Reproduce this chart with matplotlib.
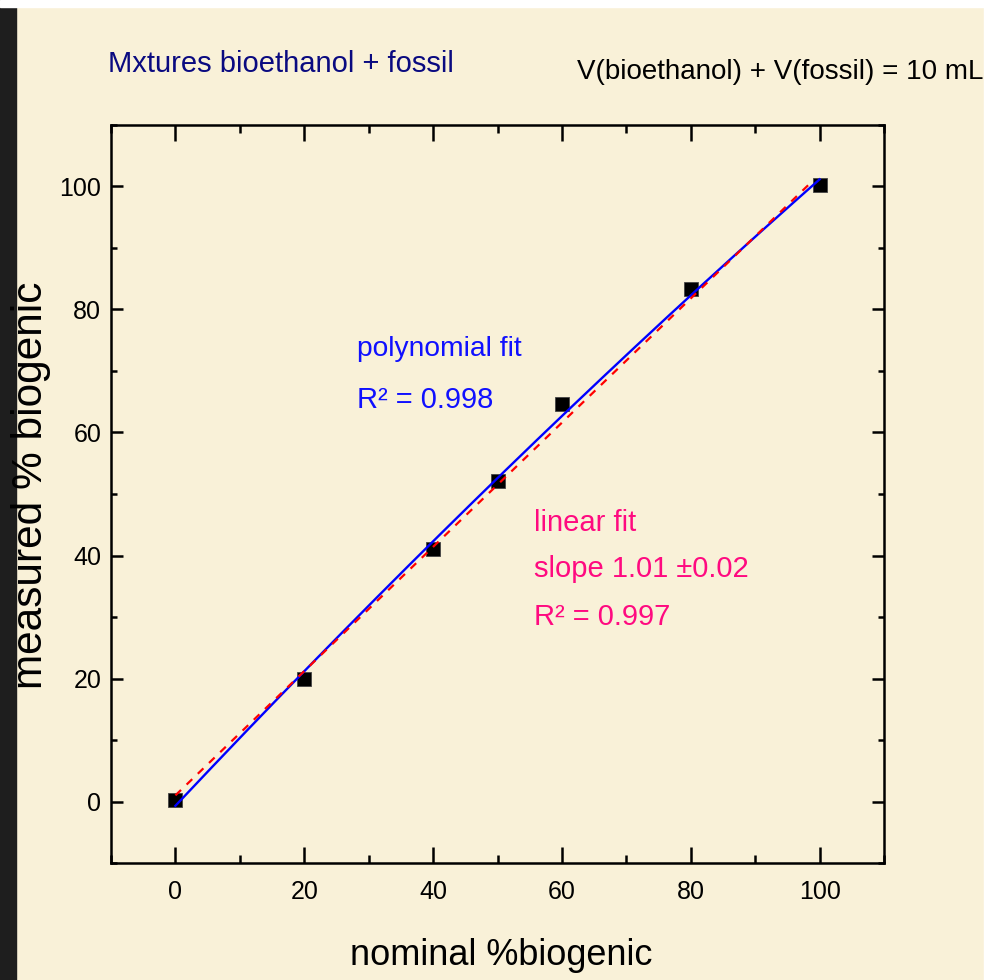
import matplotlib
matplotlib.use("Agg")
import matplotlib.pyplot as plt
import numpy as np
from matplotlib.patches import Rectangle
from matplotlib.ticker import MultipleLocator

BG = "#F9F1D8"
NAVY = "#0A0A80"
BLUE = "#1010FF"
PINK = "#FF0A80"
FONT = ["Liberation Sans"]

# blend measurements
nominal = [0, 20, 40, 50, 60, 80, 100]
measured = [0.3, 20.0, 41.0, 52.1, 64.6, 83.3, 100.2]

# linear fit result as reported
lin_slope = 1.01
lin_intercept = 1.0
lin_range = [0, 99]

W, H = 988, 980


def fx(px):
    return px / W


def fy(py):
    return 1 - py / H


def main():
    fig = plt.figure(figsize=(W / 100, H / 100), dpi=100, facecolor=BG)

    # frame strips around the slide
    fig.patches.append(Rectangle((0, 0), fx(16), 1, transform=fig.transFigure,
                                 color="#1e1e1e", zorder=0))
    fig.patches.append(Rectangle((0, fy(7)), 1, 1 - fy(7),
                                 transform=fig.transFigure, color="white", zorder=1))
    fig.patches.append(Rectangle((fx(984), 0), 1 - fx(984), 1,
                                 transform=fig.transFigure, color="white", zorder=1))

    ax = fig.add_axes([fx(111), fy(863), fx(884) - fx(111), fy(125) - fy(863)])
    ax.set_facecolor(BG)

    x = np.asarray(nominal, dtype=float)
    y = np.asarray(measured, dtype=float)

    ax.plot(x, y, "s", color="black", markersize=10.5, markeredgecolor="#444444",
            markeredgewidth=0.6, zorder=2)

    coeffs = np.polyfit(x, y, 2)
    xs = np.linspace(0, 100, 200)
    ax.plot(xs, np.polyval(coeffs, xs), color="#0000FF", linewidth=1.7, zorder=3)

    xl = np.array(lin_range, dtype=float)
    ax.plot(xl, lin_slope * xl + lin_intercept, color="#FF0000", linewidth=1.6,
            dashes=(3.5, 3.5), zorder=4)

    ax.set_xlim(-10, 110)
    ax.set_ylim(-10, 110)
    ax.xaxis.set_major_locator(MultipleLocator(20))
    ax.xaxis.set_minor_locator(MultipleLocator(10))
    ax.yaxis.set_major_locator(MultipleLocator(20))
    ax.yaxis.set_minor_locator(MultipleLocator(10))

    ax.tick_params(which="both", direction="in", top=True, right=True,
                   width=1.8, color="black")
    ax.tick_params(axis="x", which="major", length=11.5, pad=12)
    ax.tick_params(axis="x", which="minor", length=5.5)
    ax.tick_params(axis="y", which="major", length=8.6, pad=7)
    ax.tick_params(axis="y", which="minor", length=4.3)
    for lab in ax.get_xticklabels() + ax.get_yticklabels():
        lab.set_family(FONT)
        lab.set_fontsize(18)
    for sp in ax.spines.values():
        sp.set_linewidth(1.8)

    # axis titles
    fig.text(fx(501), fy(955), "nominal %biogenic", family=FONT, fontsize=26,
             ha="center", va="center")
    fig.text(fx(31), fy(485), "measured % biogenic", family=FONT, fontsize=30.5,
             rotation=90, ha="center", va="center")

    # header lines
    fig.text(fx(108), fy(72), "Mxtures bioethanol + fossil", family=FONT,
             fontsize=21, color=NAVY, ha="left", va="baseline")
    fig.text(fx(577), fy(79), "V(bioethanol) + V(fossil) = 10 mL", family=FONT,
             fontsize=20, color="black", ha="left", va="baseline")

    # fit annotations
    fig.text(fx(357), fy(356), "polynomial fit", family=FONT, fontsize=20.3,
             color=BLUE, ha="left", va="baseline")
    fig.text(fx(357), fy(408), "R\u00b2 = 0.998", family=FONT, fontsize=21,
             color=BLUE, ha="left", va="baseline")
    fig.text(fx(534), fy(531), "linear fit", family=FONT, fontsize=21,
             color=PINK, ha="left", va="baseline")
    fig.text(fx(534), fy(577), "slope 1.01 \u00b10.02", family=FONT, fontsize=21,
             color=PINK, ha="left", va="baseline")
    fig.text(fx(534), fy(625), "R\u00b2 = 0.997", family=FONT, fontsize=21,
             color=PINK, ha="left", va="baseline")

    fig.savefig("out.png", dpi=100, facecolor=BG)
    plt.close(fig)


if __name__ == "__main__":
    main()
